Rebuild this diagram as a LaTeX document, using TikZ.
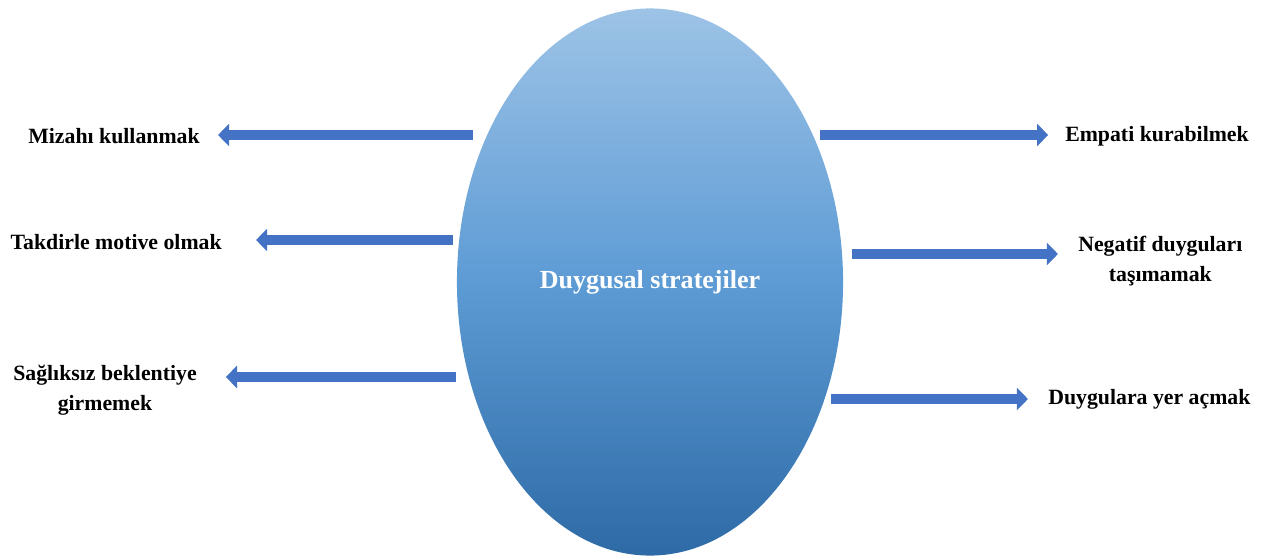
\documentclass[tikz,border=0pt]{standalone}
\usepackage{fontspec}
\setmainfont{Liberation Serif}
\usetikzlibrary{shapes.geometric,arrows.meta}
\definecolor{ovaltop}{RGB}{157,195,230}
\definecolor{ovalmid}{RGB}{93,155,213}
\definecolor{ovalbot}{RGB}{46,107,166}
\definecolor{arrblue}{RGB}{68,114,196}
\tikzset{
  oval/.style={ellipse, top color=ovaltop, bottom color=ovalbot, middle color=ovalmid,
               minimum width=9.65cm, minimum height=13.675cm, inner sep=0pt,
               text=white, font=\fontsize{18.5}{22}\selectfont\bfseries},
  lbl/.style={align=center, inner sep=0pt, text=black,
              font=\fontsize{15.5}{21}\selectfont\bfseries},
  arr/.style={-{Triangle[width=0.55cm, length=0.28cm]}, line width=0.23cm, draw=arrblue},
}

\begin{document}
\begin{tikzpicture}[x=0.025cm, y=-0.025cm]
  \useasboundingbox (0,0) rectangle (1272,559);

  \node[oval] (core) at (650,282) {Duygusal stratejiler};

  % arrow starts
  \coordinate (a1) at (473,135);
  \coordinate (a2) at (453,240);
  \coordinate (a3) at (456,377);
  \coordinate (b1) at (820,135);
  \coordinate (b2) at (852,254);
  \coordinate (b3) at (831,399);

  % left side
  \node[lbl, anchor=east] (mizah) at (200,136) {Mizahı kullanmak};
  \node[lbl, anchor=east] (takdir) at (222,242) {Takdirle motive olmak};
  \node[lbl, anchor=east] (saglik) at (197,390) {Sağlıksız beklentiye\\girmemek};

  % right side
  \node[lbl, anchor=west] (empati) at (1065,136) {Empati kurabilmek};
  \node[lbl, anchor=west] (negatif) at (1078,261) {Negatif duyguları\\taşımamak};
  \node[lbl, anchor=west] (duygu) at (1048,399) {Duygulara yer açmak};

  \draw[arr, shorten >=0.45cm] (a1) -- (a1 -| mizah.east);
  \draw[arr, shorten >=0.85cm] (a2) -- (a2 -| takdir.east);
  \draw[arr, shorten >=0.72cm] (a3) -- (a3 -| saglik.east);
  \draw[arr, shorten >=0.42cm] (b1) -- (b1 -| empati.west);
  \draw[arr, shorten >=0.5cm] (b2) -- (b2 -| negatif.west);
  \draw[arr, shorten >=0.5cm] (b3) -- (b3 -| duygu.west);
\end{tikzpicture}
\end{document}
